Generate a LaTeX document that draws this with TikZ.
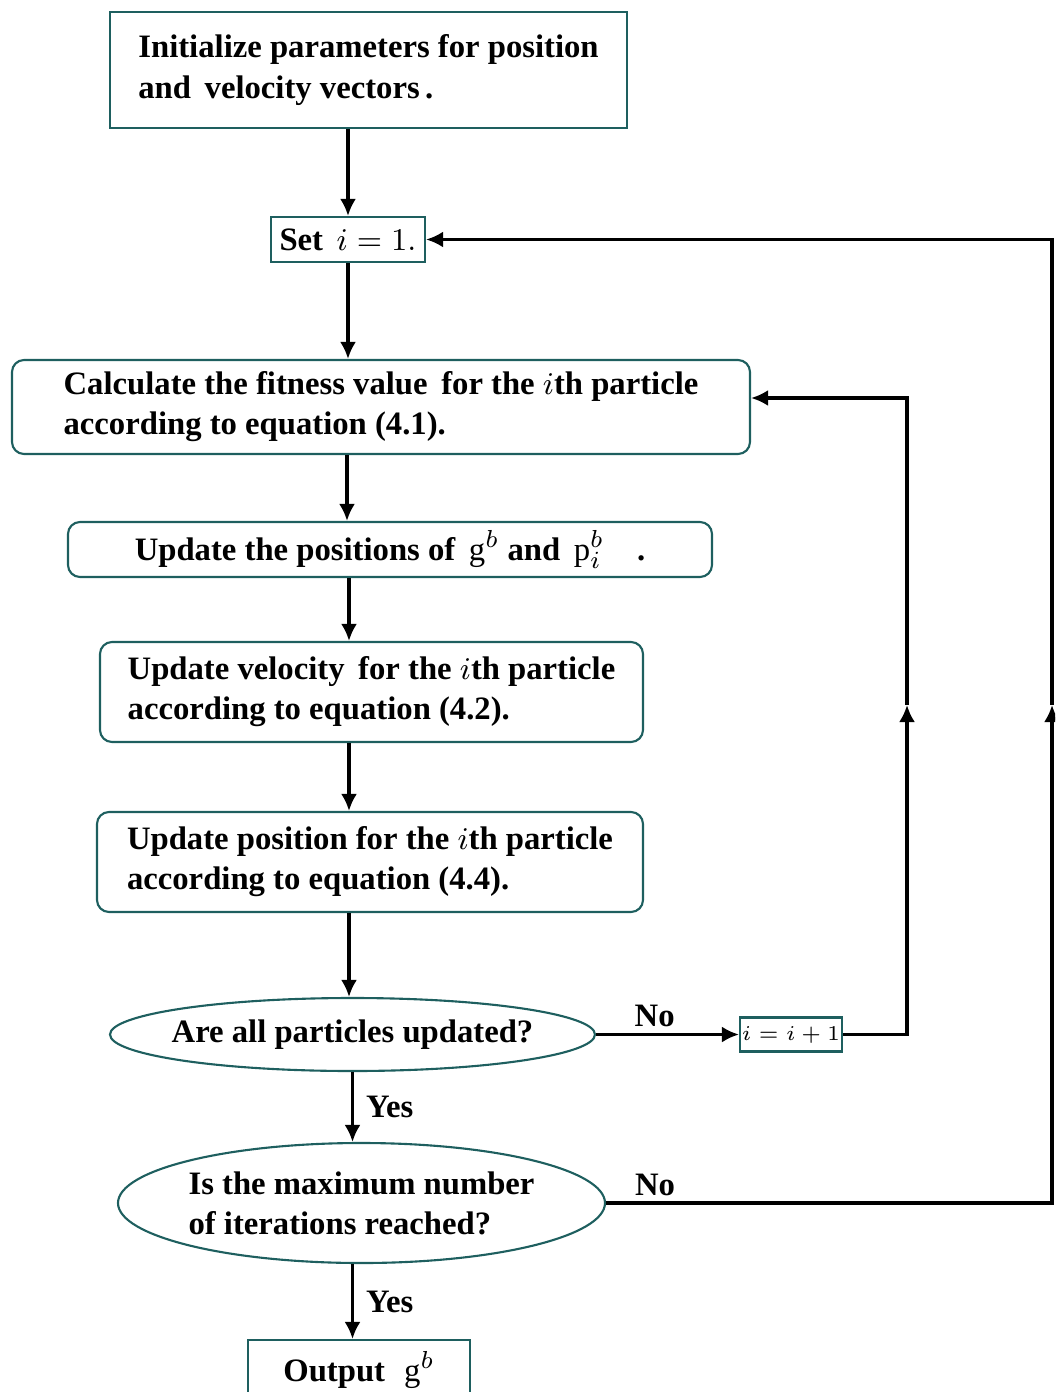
\documentclass[tikz,border=0pt]{standalone}
\usepackage{fontspec}
\setmainfont{Liberation Serif}
\usetikzlibrary{shapes.geometric,arrows.meta}
\definecolor{boxline}{RGB}{30,95,95}
\begin{document}
\begin{tikzpicture}[
    font=\fontsize{9.3}{11.4}\selectfont\bfseries,
    every node/.style={inner sep=0pt},
    process/.style={rectangle, draw=boxline, line width=0.6pt, align=left, text centered},
    roundproc/.style={process, rounded corners=1.2mm},
    decision/.style={ellipse, draw=boxline, line width=0.6pt, align=left, inner xsep=-0.05cm},
    flow/.style={line width=0.9pt, -{Latex[length=1.7mm,width=1.6mm]}},
    plain/.style={line width=0.9pt}
]
    \useasboundingbox (0,0) rectangle (10.55,-13.92);
    \clip (0,0) rectangle (10.55,-13.92);

    % Steps
    \node[process, minimum width=5.17cm, minimum height=1.16cm] (init) at (3.685,-0.70)
        {Initialize parameters for position\\and\, velocity vectors\,.};
    \node[process, minimum width=1.54cm, minimum height=0.45cm] (set) at (3.48,-2.395)
        {Set\, $i=1.$};
    \node[roundproc, minimum width=7.38cm, minimum height=0.94cm] (calc) at (3.81,-4.07)
        {Calculate the fitness value\, for the $i$th particle\\according to equation (4.1).};
    \node[roundproc, minimum width=6.44cm, minimum height=0.55cm] (upd) at (3.90,-5.495)
        {Update the positions of\, $\mathrm{g}^b$ and\, $\mathrm{p}_i^b$\quad .};
    \node[roundproc, minimum width=5.43cm, minimum height=1.00cm] (vel) at (3.715,-6.92)
        {Update velocity\, for the $i$th particle\\according to equation (4.2).};
    \node[roundproc, minimum width=5.46cm, minimum height=1.00cm] (pos) at (3.70,-8.62)
        {Update position for the $i$th particle\\according to equation (4.4).};

    % Decision nodes
    \node[decision, inner xsep=-0.18cm, minimum width=4.85cm, minimum height=0.73cm] (alldone) at (3.525,-10.345)
        {Are all particles updated?};
    \node[process, minimum width=1.02cm, minimum height=0.34cm, font=\fontsize{6.5}{8}\selectfont] (inc) at (7.91,-10.345)
        {$i=i+1$};
    \node[decision, minimum width=4.87cm, minimum height=1.20cm] (maxit) at (3.615,-12.03)
        {Is the maximum number\\of iterations reached?};
    \node[process, minimum width=2.22cm, minimum height=0.60cm] (out) at (3.59,-13.70)
        {Output\,\, $\mathrm{g}^b$};

    % Main flow
    \draw[flow] (set.north |- init.south) -- (set.north);
    \draw[flow] (set.south) -- (set.south |- calc.north);
    \draw[flow] ([xshift=-0.1mm]set.south |- calc.south) -- ([xshift=-0.1mm]set.south |- upd.north);
    \draw[flow] ([xshift=0.1mm]set.south |- upd.south) -- ([xshift=0.1mm]set.south |- vel.north);
    \draw[flow] ([xshift=0.1mm]set.south |- vel.south) -- ([xshift=0.1mm]set.south |- pos.north);
    \draw[flow] ([xshift=0.1mm]set.south |- pos.south) -- ([xshift=0.1mm]set.south |- alldone.north);
    \draw[flow] (alldone.south) -- node[right=1.2mm] {Yes} (alldone.south |- maxit.north);
    \draw[flow] (alldone.south |- maxit.south) -- node[right=1.2mm] {Yes} (alldone.south |- out.north);

    % Inner loop
    \draw[flow] (alldone.east) -- node[above=0.6mm, pos=0.41] {No} (inc.west);
    \coordinate (r1) at (9.07,-7.05);
    \draw[flow] (inc.east) -| (r1);
    \draw[flow] (r1) |- ([yshift=0.09cm]calc.east);

    % Outer loop
    \coordinate (r2) at (10.52,-7.05);
    \draw[flow] (maxit.east) -- node[above=0.6mm, pos=0.11] {No} (maxit.east -| r2) -- (r2);
    \draw[flow] (r2) |- (set.east);
\end{tikzpicture}
\end{document}
